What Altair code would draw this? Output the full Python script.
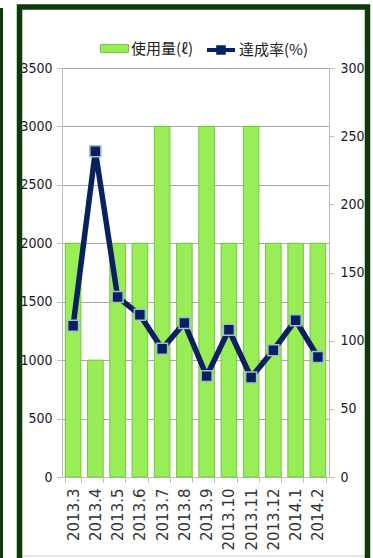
import altair as alt
import pandas as pd

# Monthly usage (bars, left axis) and achievement rate (line, right axis)
months = ["2013.3", "2013.4", "2013.5", "2013.6", "2013.7", "2013.8",
          "2013.9", "2013.10", "2013.11", "2013.12", "2014.1", "2014.2"]
usage = [2000, 1000, 2000, 2000, 3000, 2000, 3000, 2000, 3000, 2000, 2000, 2000]
rate = [111, 239, 132, 119, 94, 113, 74, 108, 73, 93, 115, 88]

usage_label = "使用量(ℓ)"
rate_label = "達成率(%)"

df = pd.DataFrame({"month": months, "usage": usage, "rate": rate,
                   "s1": usage_label, "s2": rate_label})

GREEN = "#99EE57"
GREEN_EDGE = "#72C83E"
NAVY = "#0A2160"
GRID = "#A8A8A8"
AXIS = "#BDBDBD"
FRAME = "#0B3A0B"

NUM_FONT = "DejaVu Sans Condensed"
CJK_FONT = "Noto Sans CJK JP"

x_enc = alt.X(
    "month:N", sort=months, title=None,
    scale=alt.Scale(paddingInner=0.3, paddingOuter=0.15),
    axis=alt.Axis(labelAngle=270, labelFont="DejaVu Sans", labelFontSize=15,
                  labelColor="#333333", labelPadding=6, tickBand="extent",
                  tickSize=5, tickColor=AXIS, domainColor=AXIS, grid=False),
)

bars = alt.Chart(df).mark_bar(stroke=GREEN_EDGE, strokeWidth=1).encode(
    x=x_enc,
    y=alt.Y("usage:Q", title=None,
            scale=alt.Scale(domain=[0, 3500], nice=False),
            axis=alt.Axis(values=list(range(0, 3501, 500)), format="d",
                          grid=True, gridColor=GRID, tickSize=5,
                          tickColor=AXIS, domainColor=AXIS,
                          labelFont=NUM_FONT, labelFontSize=14,
                          labelColor="#1a1a2a", labelPadding=5)),
    color=alt.Color("s1:N", scale=alt.Scale(domain=[usage_label], range=[GREEN]),
                    legend=alt.Legend(
                        title=None, orient="none", legendX=38, legendY=-34,
                        symbolType="M-1,-0.29H1V0.29H-1Z", symbolSize=784,
                        symbolStrokeColor=GREEN_EDGE, symbolStrokeWidth=1,
                        labelFont=CJK_FONT, labelFontSize=15,
                        labelColor="#222222", labelOffset=2, padding=0)),
)

line = alt.Chart(df).mark_line(strokeWidth=5.5).encode(
    x=alt.X("month:N", sort=months),
    y=alt.Y("rate:Q", title=None,
            scale=alt.Scale(domain=[0, 300], nice=False),
            axis=alt.Axis(orient="right", values=list(range(0, 301, 50)),
                          format="d", grid=False, tickSize=5,
                          tickColor=AXIS, domainColor=AXIS,
                          labelFont=NUM_FONT, labelFontSize=14,
                          labelColor="#1a1a2a", labelPadding=6)),
    stroke=alt.Stroke("s2:N", scale=alt.Scale(domain=[rate_label], range=[NAVY]),
                      legend=alt.Legend(
                          title=None, orient="none", legendX=143, legendY=-34,
                          symbolType="M-1,0H1M-0.2,-0.2H0.2V0.2H-0.2Z",
                          symbolSize=784, symbolStrokeWidth=4,
                          labelFont=CJK_FONT, labelFontSize=15,
                          labelColor="#222222", labelOffset=2, padding=0)),
)

points = alt.Chart(df).mark_point(
    shape="square", filled=True, size=120, fill=NAVY, opacity=1,
    stroke="#A9BAD3", strokeWidth=1.5,
).encode(
    x=alt.X("month:N", sort=months),
    y=alt.Y("rate:Q"),
)

# Decorative dark green panel frame around the chart
frame_data = alt.Data(values=[{"k": 0}])
inner_base = alt.Chart(frame_data).mark_rule(stroke="#CFCFCF", strokeWidth=1).encode(
    x=alt.value(-40), x2=alt.value(303), y=alt.value(488),
)
frame = alt.Chart(frame_data).mark_rect(
    fillOpacity=0, stroke=FRAME, strokeWidth=5.5,
).encode(
    x=alt.value(-42.5), x2=alt.value(305.5),
    y=alt.value(-61), y2=alt.value(530),
)
edge = alt.Chart(frame_data).mark_rule(stroke=FRAME, strokeWidth=3).encode(
    x=alt.value(-60.5), y=alt.value(-60), y2=alt.value(530),
)

chart = alt.layer(
    bars, alt.layer(line, points), inner_base, frame, edge
).resolve_scale(
    y="independent", color="independent", stroke="independent"
).resolve_legend(
    color="independent", stroke="independent"
).properties(
    width=267, height=409,
    padding={"left": 62, "top": 68, "right": 44, "bottom": 81},
    autosize=alt.AutoSizeParams(type="none"),
    background="white",
).configure_view(stroke=None)

chart.save("out.html", embed_options={"renderer": "svg", "actions": False})
